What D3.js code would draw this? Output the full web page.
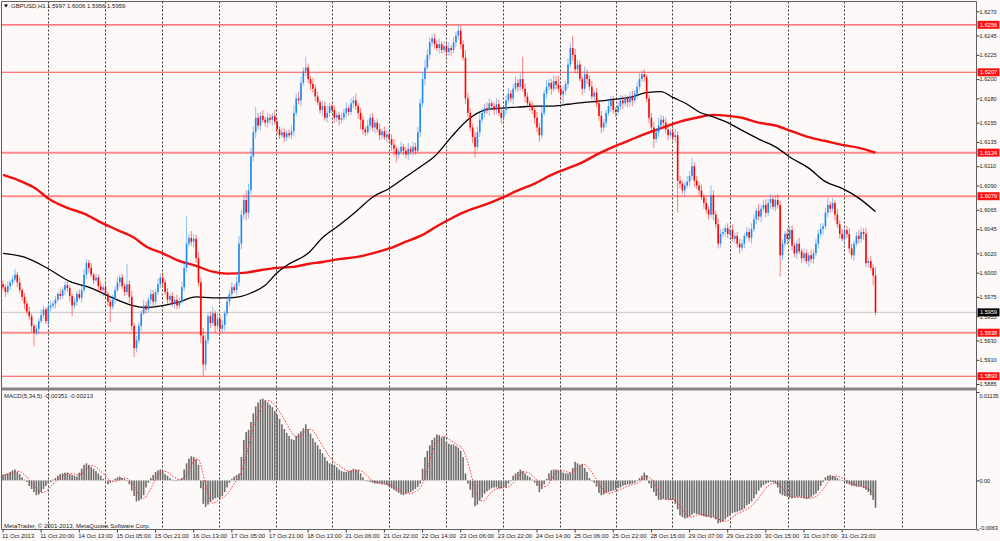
<!DOCTYPE html>
<html>
<head>
<meta charset="utf-8">
<script src="https://cdn.jsdelivr.net/npm/d3@7"></script>
<style>
  html, body { margin: 0; padding: 0; background: #fdf9f8; }
  svg { display: block; font-family: "Liberation Sans", Arial, sans-serif; }
  text { fill: #1a1a1a; }
</style>
</head>
<body>
<script>
// GBPUSD H1, prices kept in pips (price * 10000)
var firstOpen = 15988;
var closePips = [
15985,15980,15986,15990,15993,15998,15990,15982,15975,15968,
15960,15955,15945,15938,15942,15950,15956,15962,15950,15964,
15966,15968,15972,15978,15976,15982,15987,15984,15976,15966,
15970,15978,15974,15982,15998,16010,16005,15998,15992,15995,
15986,15982,15985,15978,15970,15965,15972,15982,15990,15995,
15986,15980,15988,15975,15945,15922,15930,15945,15958,15966,
15962,15972,15978,15970,15980,15988,15995,15990,15980,15972,
15976,15968,15972,15966,15970,15985,16005,16030,16036,16032,
16035,16015,15990,15935,15905,15930,15955,15948,15958,15945,
15952,15942,15946,15958,15970,15978,15985,15982,15990,16030,
16060,16075,16062,16085,16120,16145,16160,16152,16162,16158,
16155,16160,16158,16162,16156,16148,16142,16145,16140,16144,
16142,16146,16165,16180,16178,16196,16208,16212,16200,16195,
16190,16182,16176,16168,16172,16160,16165,16172,16168,16160,
16163,16158,16160,16165,16170,16166,16175,16178,16172,16165,
16158,16148,16145,16152,16160,16150,16155,16148,16142,16146,
16140,16143,16138,16132,16128,16122,16125,16130,16126,16122,
16128,16125,16130,16126,16145,16175,16200,16212,16225,16238,
16242,16236,16232,16236,16230,16234,16228,16232,16230,16238,
16245,16250,16236,16222,16180,16165,16150,16140,16130,16145,
16158,16165,16170,16168,16175,16172,16168,16174,16165,16160,
16168,16178,16185,16180,16190,16196,16192,16200,16190,16182,
16175,16172,16168,16160,16150,16142,16165,16185,16192,16196,
16190,16198,16194,16190,16184,16188,16195,16215,16232,16225,
16210,16215,16200,16190,16205,16200,16192,16182,16186,16175,
16162,16150,16155,16165,16172,16178,16168,16166,16172,16178,
16175,16180,16176,16182,16178,16185,16192,16200,16205,16202,
16180,16160,16150,16138,16145,16152,16158,16155,16148,16142,
16145,16140,16142,16095,16092,16085,16090,16094,16100,16110,
16095,16090,16085,16078,16072,16065,16060,16080,16060,16050,
16030,16040,16042,16046,16040,16044,16035,16038,16030,16026,
16030,16038,16042,16036,16045,16055,16064,16058,16066,16070,
16062,16072,16076,16068,16075,16070,16018,16030,16040,16035,
16044,16028,16020,16030,16022,16015,16020,16012,16018,16014,
16020,16030,16040,16045,16048,16062,16070,16066,16072,16060,
16050,16040,16035,16044,16040,16025,16018,16030,16038,16035,
16042,16040,16010,16012,16005,15997,15959];

// wick lengths in pips above / below the body
var upWick = [
4,3,5,2,4,6,3,5,2,4,3,
5,3,2,4,3,6,4,2,3,5,
3,4,2,5,3,4,6,3,2,4,
3,5,4,6,4,3,5,2,4,3,
5,3,4,2,3,5,4,6,3,4,
3,21,4,6,3,5,4,3,6,4,
3,5,4,3,6,4,5,3,4,2,
4,3,5,4,6,5,28,4,7,5,
4,6,5,8,6,4,5,7,3,6,
4,5,3,6,4,5,3,6,8,5,
6,10,7,9,6,11,5,4,6,3,
5,4,3,6,4,3,5,4,3,4,
6,8,5,7,6,4,11,4,3,6,
4,5,3,6,5,8,4,3,5,4,
3,5,4,6,3,5,4,7,3,5,
4,3,6,4,5,3,4,6,3,5,
4,3,5,6,3,4,5,3,4,6,
3,5,4,6,5,7,8,6,5,4,
5,4,6,3,5,4,6,3,5,4,
6,5,4,8,6,5,4,5,6,7,
5,4,6,5,3,4,6,5,4,3,
5,6,4,5,7,4,6,23,5,4,
3,5,4,6,5,6,4,7,5,4,
6,5,9,4,5,3,6,5,13,6,
5,4,3,8,5,4,6,3,5,4,
5,4,3,6,4,5,3,4,6,5,
4,3,5,6,4,5,6,4,5,3,
4,5,6,4,8,5,4,5,3,4,
5,6,4,5,3,4,6,5,8,4,
5,4,6,3,5,4,10,5,4,6,
5,4,3,5,4,6,3,4,5,4,
3,5,4,6,5,3,7,4,5,6,
4,5,3,5,6,4,5,3,6,4,
5,3,4,6,3,5,4,3,6,4,
5,4,6,3,5,7,4,5,3,6,
4,5,3,4,6,5,3,4,6,5,
4,6,3,5,4,9];
var downWick = [
3,5,2,4,3,2,5,3,4,6,3,
4,6,14,3,5,2,4,3,6,4,
3,5,2,4,3,5,4,6,11,3,
4,2,5,3,4,5,3,4,2,5,
3,6,4,5,16,3,4,2,5,3,
4,3,6,5,9,4,3,5,2,4,
3,5,4,6,3,4,5,3,4,6,
3,5,4,3,2,4,5,3,4,6,
5,4,8,12,6,4,5,3,7,4,
5,4,6,3,5,4,3,5,4,6,
5,8,6,4,5,6,4,5,3,4,
5,4,6,3,5,4,3,5,4,3,
4,5,3,4,6,3,5,4,6,4,
5,3,4,6,3,5,4,3,5,4,
6,4,3,5,4,3,5,4,6,10,
5,4,3,5,4,6,3,5,4,3,
5,4,6,8,8,4,3,5,4,6,
3,5,4,3,5,4,6,3,5,4,
5,3,6,4,3,5,4,6,3,5,
4,5,3,6,5,4,6,11,4,5,
3,5,4,6,3,5,4,3,6,4,
5,3,4,6,3,5,4,3,6,4,
5,4,6,5,7,4,3,5,4,6,
3,5,4,6,12,4,5,3,6,4,
5,3,6,4,5,4,3,6,4,5,
6,4,5,3,6,4,5,3,4,6,
3,5,4,6,3,5,4,3,5,4,
6,5,9,4,5,3,6,4,5,3,
4,6,33,5,4,6,3,5,4,6,
4,5,3,6,4,5,3,6,4,5,
4,3,5,4,6,3,5,4,6,4,
5,3,4,6,3,5,4,6,3,5,
4,6,3,5,4,22,5,4,6,3,
5,4,6,3,5,4,3,6,4,5,
3,5,4,6,3,5,4,3,6,4,
5,3,6,4,5,4,6,3,5,4,
6,4,5,3,10,3];

// MACD(5,34,5) main values, in units of 0.0001
var macdMain = [
7,8,9,11,13,14,11,8,4,1,-2,
-7,-11,-15,-19,-18,-15,-11,-7,-4,-2,
1,3,6,8,9,10,10,8,7,6,
5,10,15,20,22,20,17,15,12,9,
6,2,-1,-5,-3,-1,2,4,5,3,
2,0,-5,-13,-20,-27,-26,-24,-19,-9,
-3,3,7,11,13,14,12,8,6,3,
1,0,0,1,3,14,22,28,31,30,
27,20,-10,-30,-34,-31,-28,-25,-23,-22,
-23,-20,-15,-9,-3,2,5,7,9,30,
52,62,65,75,86,95,100,104,105,103,
100,97,94,89,84,79,72,66,61,57,
53,52,57,60,63,67,72,66,60,54,
49,45,40,35,30,25,22,21,20,17,
14,12,11,11,12,13,15,14,13,9,
4,0,-1,-2,-3,-4,-4,-4,-5,-5,
-6,-8,-10,-12,-14,-16,-18,-19,-17,-16,
-15,-13,-11,-8,-4,15,30,38,45,52,
55,59,58,55,56,50,47,46,46,44,
42,38,30,9,-4,-12,-22,-33,-31,-26,
-22,-17,-14,-12,-10,-9,-9,-10,-10,-9,
-9,-4,0,6,9,11,14,12,9,6,
4,1,-3,-7,-15,-11,-5,2,9,13,
14,14,13,12,10,9,9,10,16,24,
22,20,21,16,11,3,0,-3,-8,-16,
-19,-18,-16,-15,-14,-13,-12,-10,-9,-7,
-6,-5,-5,-4,-3,0,3,6,10,7,
-4,-10,-15,-20,-25,-25,-24,-25,-24,-25,
-25,-30,-37,-45,-47,-49,-48,-46,-44,-42,
-43,-44,-45,-46,-47,-47,-48,-47,-50,-55,
-54,-53,-50,-47,-45,-42,-41,-40,-39,-38,
-36,-32,-30,-27,-23,-18,-13,-9,-6,-4,
-3,-2,-2,-4,-9,-17,-19,-20,-21,-22,
-23,-22,-21,-21,-22,-23,-24,-23,-21,-19,
-17,-13,-7,-2,4,6,7,6,5,3,
1,0,-2,-4,-5,-7,-7,-8,-8,-8,
-10,-12,-15,-19,-25,-35.1];

// moving averages (bar index, pips)
var blackMaBars = [0,9,19,28,37,45,53,60,67,73,81,88,94,99,104,110,115,120,128,134,141,148,155,162,169,176,181,188,195,202,209,216,223,230,237,244,249,256,263,270,276,281,287,292,298,304,310,317,324,331,338,345,352,359,366];
var blackMaPips = [16020,16016,16004,15991,15984,15975,15967,15964,15966,15969,15975,15974,15974,15975,15979,15987,16000,16009,16020,16036,16049,16063,16078,16087,16099,16111,16120,16140,16158,16168,16170,16171,16172,16172,16174,16176,16177,16179,16181,16186,16187,16181,16174,16166,16161,16155,16147,16138,16130,16118,16108,16094,16087,16077,16063];
var redMaBars = [0,6,13,20,27,34,41,48,55,60,67,73,81,88,94,102,109,115,122,128,134,141,148,155,162,169,176,182,188,195,202,209,216,223,230,237,243,249,256,263,270,277,284,291,298,304,310,317,324,331,338,345,352,359,366];
var redMaPips = [16101,16096,16088,16075,16067,16061,16052,16044,16036,16027,16020,16013,16007,16001,15999,16000,16003,16005,16006,16009,16011,16014,16016,16020,16025,16032,16039,16048,16056,16064,16070,16077,16085,16092,16101,16108,16114,16122,16130,16137,16144,16150,16156,16160,16163,16162,16160,16155,16152,16146,16140,16136,16132,16129,16124];

// horizontal levels
var levelPrices = [1.6256, 1.6207, 1.6124, 1.6079, 1.5938, 1.5893];
var levelThick = [false, false, true, true, true, false];
var lastPrice = 1.5959;

// axis ticks and labels
var priceTicks = [1.6270, 1.6245, 1.6225, 1.6200, 1.6180, 1.6155, 1.6135, 1.6110, 1.6090, 1.6065, 1.6045, 1.6020, 1.6000, 1.5975, 1.5955, 1.5930, 1.5910, 1.5885];
var macdTicks = [0.01135, 0, -0.0063];
var macdTickLabels = ["0.01135", "0.00", "-0.0063"];
var timeLabels = ["11 Oct 2013","11 Oct 20:00","14 Oct 13:00","15 Oct 05:00","15 Oct 21:00","16 Oct 13:00","17 Oct 05:00","17 Oct 21:00","18 Oct 13:00","21 Oct 06:00","21 Oct 22:00","22 Oct 14:00","23 Oct 06:00","23 Oct 22:00","24 Oct 14:00","25 Oct 06:00","25 Oct 22:00","28 Oct 15:00","29 Oct 07:00","29 Oct 23:00","30 Oct 15:00","31 Oct 07:00","31 Oct 23:00"];
var labelStep = 16;
var gridBars = [18.9, 42.8, 66.7, 90.6, 114.5, 138, 161.9, 185.8, 209.7, 233.6, 257.1, 280.6, 305, 329.3, 352.8, 377.1];

var width = 1000, height = 541;
var plotLeft = 1.5, plotRight = 976.5, mainTop = 1.5, mainBottom = 387.5, macdTop = 391, macdBottom = 529.5;
var bull = "#1e88f5", bear = "#ff0000";
var axisFont = "5.6px";

// setup scales
var xscale = d3.scaleLinear()
      .domain([0, closePips.length - 1])
      .range([3, 875.5]);

var yscale = d3.scaleLinear()
      .domain([1.5885, 1.6270])
      .range([384, 11.3]);

var mscale = d3.scaleLinear()
      .domain([-0.0063, 0.01135])
      .range([macdBottom, macdTop + 1]);

// build candles (open = previous close)
var candles = closePips.map(function(c, i) {
	var o = i === 0 ? firstOpen : closePips[i - 1];
	return {
		i: i,
		o: o / 1e4,
		c: c / 1e4,
		h: (Math.max(o, c) + upWick[i]) / 1e4,
		l: (Math.min(o, c) - downWick[i]) / 1e4
	};
});

// signal line = 5 period simple average of main (mt4 definition)
var macdSignal = macdMain.map(function(v, i) {
	var part = macdMain.slice(Math.max(0, i - 4), i + 1);
	return d3.mean(part);
});

var svg = d3.select("body")
        .append("svg")
        .attr("width", width)
        .attr("height", height);

svg.append("rect")
	.attr("width", width)
	.attr("height", height)
	.attr("fill", "#fdf9f8");

// vertical dotted grid
svg.selectAll(".vgrid")
	.data(gridBars)
	.enter()
	.append("line")
	.attr("class", "vgrid")
	.attr("x1", function(d) { return Math.round(xscale(d)) + 0.5; })
	.attr("x2", function(d) { return Math.round(xscale(d)) + 0.5; })
	.attr("y1", mainTop)
	.attr("y2", macdBottom)
	.attr("stroke", "#3a3a3a")
	.attr("stroke-width", 1)
	.attr("stroke-dasharray", "2,2");

// horizontal levels
svg.selectAll(".level")
	.data(levelPrices)
	.enter()
	.append("line")
	.attr("class", "level")
	.attr("x1", plotLeft)
	.attr("x2", plotRight)
	.attr("y1", function(d) { return yscale(d); })
	.attr("y2", function(d) { return yscale(d); })
	.attr("stroke", function(d, i) { return levelThick[i] ? "#ff8a8a" : "#ff5050"; })
	.attr("stroke-width", function(d, i) { return levelThick[i] ? 2 : 1.1; });

// last price line
svg.append("line")
	.attr("x1", plotLeft)
	.attr("x2", plotRight)
	.attr("y1", yscale(lastPrice))
	.attr("y2", yscale(lastPrice))
	.attr("stroke", "#c8c8c8")
	.attr("stroke-width", 1);

// moving averages
var maLine = d3.line()
	.x(function(d) { return xscale(d[0]); })
	.y(function(d) { return yscale(d[1] / 1e4); })
	.curve(d3.curveMonotoneX);

svg.append("path")
	.datum(redMaBars.map(function(b, i) { return [b, redMaPips[i]]; }))
	.attr("d", maLine)
	.attr("fill", "none")
	.attr("stroke", "#f01010")
	.attr("stroke-width", 2.4);

svg.append("path")
	.datum(blackMaBars.map(function(b, i) { return [b, blackMaPips[i]]; }))
	.attr("d", maLine)
	.attr("fill", "none")
	.attr("stroke", "#000")
	.attr("stroke-width", 1.3);

// candle wicks
svg.selectAll(".wick")
	.data(candles)
	.enter()
	.append("line")
	.attr("class", "wick")
	.attr("x1", function(d) { return xscale(d.i); })
	.attr("x2", function(d) { return xscale(d.i); })
	.attr("y1", function(d) { return yscale(d.h); })
	.attr("y2", function(d) { return yscale(d.l); })
	.attr("stroke", function(d) { return d.c >= d.o ? bull : bear; })
	.attr("stroke-opacity", 0.5)
	.attr("stroke-width", 1);

// candle bodies
svg.selectAll(".body")
	.data(candles)
	.enter()
	.append("rect")
	.attr("class", "body")
	.attr("x", function(d) { return xscale(d.i) - 0.8; })
	.attr("width", 1.6)
	.attr("y", function(d) { return yscale(Math.max(d.o, d.c)); })
	.attr("height", function(d) { return Math.max(1, Math.abs(yscale(d.o) - yscale(d.c))); })
	.attr("fill", function(d) { return d.c >= d.o ? bull : bear; });

// macd histogram
svg.selectAll(".macd")
	.data(macdMain)
	.enter()
	.append("rect")
	.attr("class", "macd")
	.attr("x", function(d, i) { return xscale(i) - 0.8; })
	.attr("width", 1.6)
	.attr("y", function(d) { return Math.min(mscale(d / 1e4), mscale(0)); })
	.attr("height", function(d) { return Math.max(0.6, Math.abs(mscale(d / 1e4) - mscale(0))); })
	.attr("fill", "#6c6c6c");

// macd signal, red dotted
svg.append("path")
	.datum(macdSignal)
	.attr("d", d3.line()
		.x(function(d, i) { return xscale(i); })
		.y(function(d) { return mscale(d / 1e4); }))
	.attr("fill", "none")
	.attr("stroke", "#ff3030")
	.attr("stroke-width", 1)
	.attr("stroke-dasharray", "1.5,1.5");

// panel borders
svg.append("path")
	.attr("d", "M" + plotLeft + "," + macdBottom + "V" + mainTop + "H" + plotRight + "V" + macdBottom + "H" + plotLeft)
	.attr("fill", "none")
	.attr("stroke", "#606060")
	.attr("stroke-width", 1);

svg.append("rect")
	.attr("x", plotLeft)
	.attr("y", mainBottom)
	.attr("width", plotRight - plotLeft)
	.attr("height", 3)
	.attr("fill", "#858585");

// price axis
var yaxis = d3.axisRight(yscale)
	.tickValues(priceTicks)
	.tickSize(3)
	.tickFormat(d3.format(".4f"));

svg.append("g")
	.attr("id", "y-axis")
	.attr("transform", "translate(" + plotRight + ",0)")
	.call(yaxis)
	.call(function(g) { g.select(".domain").remove(); })
	.selectAll("text")
	.attr("x", 3)
	.style("font-size", axisFont)
	.style("font-family", "Liberation Sans, Arial, sans-serif");

// macd axis
var maxis = d3.axisRight(mscale)
	.tickValues(macdTicks)
	.tickSize(3)
	.tickFormat(function(d, i) { return macdTickLabels[i]; });

svg.append("g")
	.attr("id", "m-axis")
	.attr("transform", "translate(" + plotRight + ",0)")
	.call(maxis)
	.call(function(g) { g.select(".domain").remove(); })
	.selectAll("text")
	.attr("x", 3)
	.attr("dy", function(d, i) { return i === 0 ? "0.9em" : (i === 2 ? "0em" : "0.32em"); })
	.style("font-size", axisFont)
	.style("letter-spacing", "-0.1px")
	.style("font-family", "Liberation Sans, Arial, sans-serif");

svg.selectAll(".tick line").attr("stroke", "#404040");

// level price tags
var tags = levelPrices.map(function(p) { return { p: p, bg: "#ff1010", fg: "#fff" }; });
tags.push({ p: lastPrice, bg: "#000", fg: "#fff" });

var tag = svg.selectAll(".tag")
	.data(tags)
	.enter()
	.append("g")
	.attr("class", "tag")
	.attr("transform", function(d) { return "translate(" + (plotRight + 1) + "," + yscale(d.p) + ")"; });

tag.append("rect")
	.attr("x", 0)
	.attr("y", -4)
	.attr("width", 22)
	.attr("height", 8)
	.attr("fill", function(d) { return d.bg; });

tag.append("text")
	.attr("x", 2.5)
	.attr("y", 2.1)
	.style("font-size", axisFont)
	.style("fill", function(d) { return d.fg; })
	.text(function(d) { return d3.format(".4f")(d.p); });

// time labels along the bottom
var tl = svg.selectAll(".tlabel")
	.data(timeLabels)
	.enter()
	.append("g")
	.attr("class", "tlabel")
	.attr("transform", function(d, i) { return "translate(" + xscale(i * labelStep) + "," + macdBottom + ")"; });

tl.append("line")
	.attr("x1", 0).attr("x2", 0)
	.attr("y1", 0).attr("y2", 3)
	.attr("stroke", "#404040");

tl.append("text")
	.attr("x", -1)
	.attr("y", 8.5)
	.style("font-size", "6px")
	.text(function(d) { return d; });

// header texts
svg.append("path")
	.attr("d", "M4,4.5 L8,4.5 L6,7.5 Z")
	.attr("fill", "#000");

svg.append("text")
	.attr("x", 11)
	.attr("y", 8)
	.style("font-size", "6px")
	.text("GBPUSD,H1");

svg.append("text")
	.attr("x", 47)
	.attr("y", 8)
	.style("font-size", "6px")
	.text("1.5997 1.6006 1.5956 1.5959");

svg.append("text")
	.attr("x", 4)
	.attr("y", 398)
	.style("font-size", "6px")
	.text("MACD(5,34,5) -0.00351 -0.00213");

svg.append("text")
	.attr("x", 4)
	.attr("y", 528)
	.style("font-size", "6px")
	.text("MetaTrader, \u00a9 2001-2013, MetaQuotes Software Corp.");
</script>
</body>
</html>
